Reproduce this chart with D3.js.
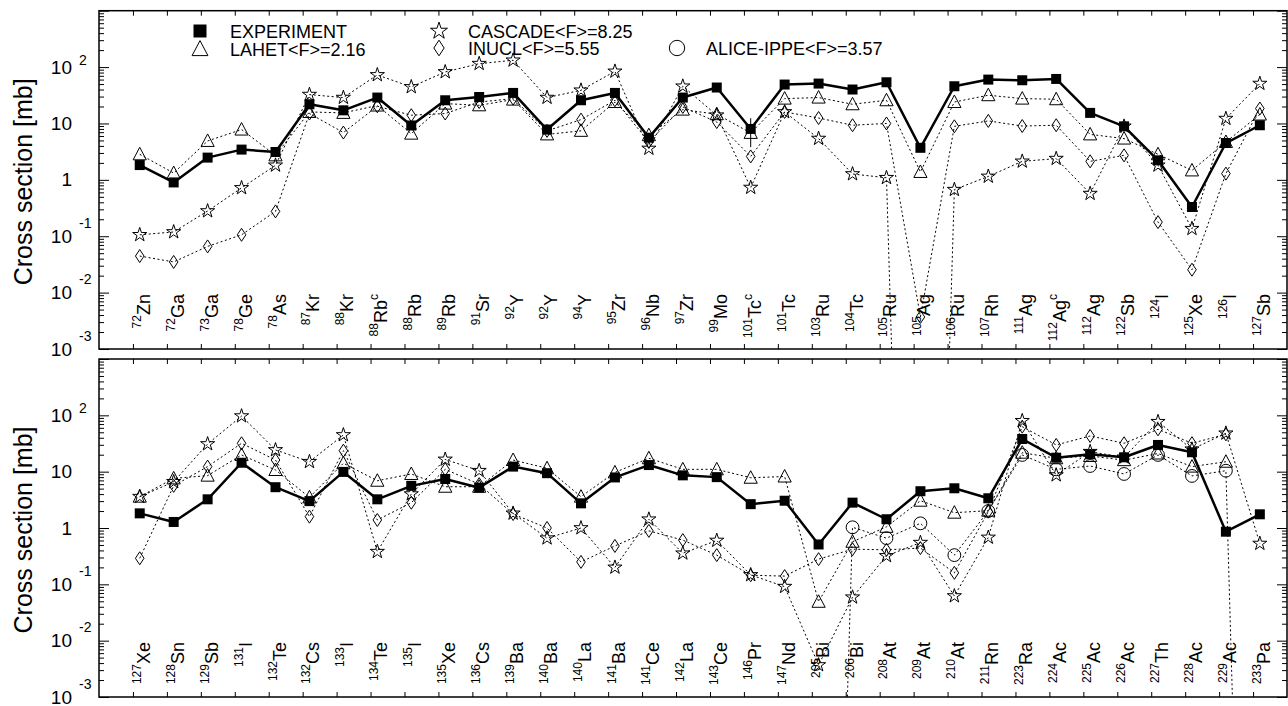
<!DOCTYPE html>
<html>
<head>
<meta charset="utf-8">
<script src="https://cdn.jsdelivr.net/npm/d3@7"></script>
<style>
  body { margin: 0; background: #fff; }
  svg { display: block; font-family: "Liberation Sans", Arial, Helvetica, sans-serif; }
</style>
</head>
<body>
<div id="chart"></div>
<script>
// model value 0 -> drawn far below the log axis so the dotted line drops off the panel
const ZERO = 1e-20;

// ---- upper panel ----
const topIsotopes = ['72Zn', '72Ga', '73Ga', '78Ge', '78As', '87Kr', '88Kr', '88Rb^c', '88Rb', '89Rb', '91Sr', '92Y',
  '92Y', '94Y', '95Zr', '96Nb', '97Zr', '99Mo', '101Tc^c', '101Tc', '103Ru', '104Tc', '105Ru', '105Ag', '106Ru', '107Rh',
  '111Ag', '112Ag^c', '112Ag', '122Sb', '124I', '125Xe', '126I', '127Sb'];
const topExperiment = [1.83, 0.90, 2.48, 3.44, 3.12, 21.9, 17.1, 28.8, 9.2, 25.8, 29.5, 34.8, 7.8, 25.8, 34.8, 5.6, 28.8,
  43.4, 8.0, 49, 51, 40, 53.8, 3.7, 45.7, 60, 58.4, 61.6, 15.4, 8.9, 2.22, 0.33, 4.5, 9.3];
const topLahet = [2.84, 1.32, 4.9, 7.8, 2.72, 16, 15.4, 20.8, 6.6, 22.5, 21, 26.5, 6.4, 7.4, 24, 6.2, 17.6, 14.6, 6.8,
  27.6, 28.8, 21.9, 25.8, 1.38, 24, 31.7, 27.6, 26.9, 6.4, 5.4, 2.84, 1.47, 4.7, 14.4];
const topCascade = [0.106, 0.119, 0.28, 0.72, 1.81, 32.5, 28.8, 72.6, 44.5, 82, 115, 132, 28.8, 38.8, 84, 3.6, 45.7, 14,
  0.73, 16, 5.4, 1.27, 1.09, ZERO, 0.67, 1.15, 2.13, 2.38, 0.57, 8.9, 1.81, 0.136, 12.2, 51];
const topInucl = [0.0445, 0.035, 0.066, 0.106, 0.276, 15, 6.9, 20.2, 14, 15, 24, 27.6, 7.4, 11.7, 25.8, 4.7, 19.6, 10.6,
  2.6, 16, 12.5, 9.3, 10, 0.0037, 8.9, 11.1, 9.0, 9.3, 2.13, 2.72, 0.178, 0.0255, 1.29, 18.4];
const topAlice = topIsotopes.map(() => null);
const topErrIndex = [18];
const topErrLow = [3.8];
const topErrHigh = [12.4];

// ---- lower panel ----
const bottomIsotopes = ['127Xe', '128Sn', '129Sb', '131I', '132Te', '132Cs', '133I', '134Te', '135I', '135Xe', '136Cs',
  '139Ba', '140Ba', '140La', '141Ba', '141Ce', '142La', '143Ce', '146Pr', '147Nd', '205Bi', '206Bi', '208At', '209At',
  '210At', '211Rn', '223Ra', '224Ac', '225Ac', '226Ac', '227Th', '228Ac', '229Ac', '233Pa'];
const bottomExperiment = [1.82, 1.28, 3.23, 14.4, 5.3, 3.0, 9.9, 3.23, 5.6, 7.4, 5.2, 12.3, 9.4, 2.74, 7.9, 13.1, 8.6,
  8.0, 2.65, 3.05, 0.51, 2.82, 1.43, 4.5, 5.07, 3.37, 38, 17.7, 20.3, 18, 29.8, 22.1, 0.86, 1.75];
const bottomLahet = [3.6, 7.6, 8.5, 19.8, 10.7, 3.5, 14.1, 6.9, 9.1, 5.4, 5.4, 16.1, 11.5, 3.6, 9.7, 17.3, 11, 11, 7.8,
  8.2, 0.049, 0.57, 1.05, 3.05, 1.87, 2.03, 21.7, 17.3, 19, 16, 21, 12.3, 15, null];
const bottomCascade = [3.6, 6.6, 31, 97, 24.3, 15, 44.8, 0.38, 4.0, 16.5, 10.4, 1.82, 0.66, 1.0, 0.2, 1.43, 0.356, 0.6,
  0.147, 0.091, 0.0037, 0.059, 0.32, 0.55, 0.062, 0.68, 80, 8.7, 22.6, 18, 77, 25, 48, 0.53];
const bottomInucl = [0.29, 5.6, 12.3, 31.9, 16.1, 1.59, 23.6, 1.39, 2.81, 11, 6, 1.77, 1.0, 0.25, 0.48, 0.89, 0.61, 0.33,
  0.145, 0.14, 0.28, 0.42, 0.41, 0.44, 0.16, 1.95, 63, 29.8, 43, 31.9, 56.5, 32, 46, null];
const bottomAlice = [null, null, null, null, null, null, null, null, null, null, null, null, null, null, null, null, null,
  null, null, null, ZERO, 1.03, 0.66, 1.21, 0.33, 2.0, 19.8, 11, 12.6, 9.1, 19.8, 8.4, 10.4, ZERO];

const legendNames = ['EXPERIMENT', 'LAHET<F>=2.16', 'CASCADE<F>=8.25', 'INUCL<F>=5.55', 'ALICE-IPPE<F>=3.57'];
const yLabel = 'Cross section [mb]';

const width = 1288, height = 706;
const plotLeft = 99, plotRight = 1287;
const x = d3.scaleLinear().domain([0, 35]).range([plotLeft, plotRight]);
const pointOffset = 1.2;

const svg = d3.select('#chart').append('svg')
  .attr('width', width)
  .attr('height', height);

// marker shapes, centred on 0,0
function markerPath(type, k = 1) {
  if (type === 'square') {
    const h = 5 * k;
    return `M${-h},${-h}H${h}V${h}H${-h}Z`;
  }
  if (type === 'triangle') return `M0,${-7 * k}L${6.6 * k},${5.5 * k}L${-6.6 * k},${5.5 * k}Z`;
  if (type === 'diamond') return `M0,${-6.5 * k}L${4.3 * k},0L0,${6.5 * k}L${-4.3 * k},0Z`;
  if (type === 'star') return d3.symbol(d3.symbolStar, 62 * k * k)();
  return d3.symbol(d3.symbolCircle, Math.PI * 6.4 * 6.4 * k * k)();
}

function drawPanel(panel, id) {
  const y = d3.scaleLog().domain([1e-3, 1e3]).range([panel.bottom, panel.top]);
  const g = svg.append('g');

  g.append('clipPath').attr('id', 'clip' + id)
    .append('rect')
    .attr('x', plotLeft).attr('y', panel.top)
    .attr('width', plotRight - plotLeft).attr('height', panel.bottom - panel.top);

  // log ticks, inward on both sides
  const majors = d3.range(-3, 4).map(e => Math.pow(10, e));
  const minors = [];
  d3.range(-3, 3).forEach(e => d3.range(2, 10).forEach(m => minors.push(m * Math.pow(10, e))));

  [[d3.axisLeft, plotLeft], [d3.axisRight, plotRight]].forEach(([axis, pos]) => {
    g.append('g').attr('transform', `translate(${pos},0)`)
      .call(axis(y).tickValues(majors).tickSize(-10).tickFormat(''))
      .call(a => a.select('.domain').remove());
    g.append('g').attr('transform', `translate(${pos},0)`)
      .call(axis(y).tickValues(minors).tickSize(-5).tickFormat(''))
      .call(a => a.select('.domain').remove());
  });

  // x ticks on top and bottom
  const xt = d3.range(1, 35);
  g.append('g').attr('transform', `translate(0,${panel.bottom})`)
    .call(d3.axisBottom(x).tickValues(xt).tickSize(-5).tickFormat(''))
    .call(a => a.select('.domain').remove());
  g.append('g').attr('transform', `translate(0,${panel.top})`)
    .call(d3.axisTop(x).tickValues(xt).tickSize(-5).tickFormat(''))
    .call(a => a.select('.domain').remove());
  g.selectAll('.tick line').attr('stroke', '#000').attr('stroke-width', 1);

  // y tick labels 10^n
  d3.range(-3, 3).forEach(e => {
    const ty = y(Math.pow(10, e));
    g.append('text')
      .attr('x', 72).attr('y', ty + 6.5)
      .attr('text-anchor', 'end')
      .attr('font-size', 19)
      .text(e === 0 ? '1' : '10');
    if (e !== 0 && e !== 1) {
      g.append('text')
        .attr('x', 79).attr('y', ty + (e > 0 ? -2.5 : -8.5))
        .attr('font-size', 14)
        .text(String(e));
    }
  });

  g.append('text')
    .attr('transform', `translate(32,${(panel.top + panel.bottom) / 2 + 2}) rotate(-90)`)
    .attr('text-anchor', 'middle')
    .attr('font-size', 25)
    .text(yLabel);

  // isotope labels, rotated
  panel.isotopes.forEach((lab, i) => {
    const m = lab.match(/^(\d+)([A-Za-z]+)(\^c)?$/);
    const t = g.append('text')
      .attr('transform', `translate(${x(i + pointOffset) + 10},${panel.bottom - 55}) rotate(-90)`)
      .attr('text-anchor', 'end');
    t.append('tspan').attr('font-size', 12).attr('dy', -9).text(m[1]);
    t.append('tspan').attr('font-size', 18).attr('dy', 9).text(m[2]);
    if (m[3]) t.append('tspan').attr('font-size', 12).attr('dy', -9).text('c');
  });

  // model curves (dotted) and their open markers
  const line = d3.line()
    .defined(d => d.v != null)
    .x(d => x(d.i + pointOffset))
    .y(d => y(d.v));

  const models = [
    {values: panel.lahet, marker: 'triangle'},
    {values: panel.cascade, marker: 'star'},
    {values: panel.inucl, marker: 'diamond'},
    {values: panel.alice, marker: 'circle'}
  ];

  models.forEach(s => {
    const pts = s.values.map((v, i) => ({i, v}));
    g.append('path')
      .datum(pts)
      .attr('clip-path', `url(#clip${id})`)
      .attr('fill', 'none')
      .attr('stroke', '#000')
      .attr('stroke-width', 1)
      .attr('stroke-dasharray', '2,2.5')
      .attr('d', line);
  });
  models.forEach(s => {
    const pts = s.values.map((v, i) => ({i, v})).filter(d => d.v != null && d.v >= 1e-3);
    g.selectAll(null)
      .data(pts)
      .join('path')
      .attr('transform', d => `translate(${x(d.i + pointOffset)},${y(d.v)})`)
      .attr('d', markerPath(s.marker))
      .attr('fill', 'none')
      .attr('stroke', '#000')
      .attr('stroke-width', 1);
  });

  // experiment: solid line, error bars, filled squares
  const expPts = panel.experiment.map((v, i) => ({i, v}));
  g.append('path')
    .datum(expPts)
    .attr('fill', 'none')
    .attr('stroke', '#000')
    .attr('stroke-width', 2.5)
    .attr('stroke-linejoin', 'round')
    .attr('d', line);
  panel.errIndex.forEach((idx, j) => {
    g.append('line')
      .attr('x1', x(idx + pointOffset)).attr('x2', x(idx + pointOffset))
      .attr('y1', y(panel.errLow[j])).attr('y2', y(panel.errHigh[j]))
      .attr('stroke', '#000').attr('stroke-width', 1);
  });
  g.selectAll(null)
    .data(expPts)
    .join('path')
    .attr('transform', d => `translate(${x(d.i + pointOffset)},${y(d.v)})`)
    .attr('d', markerPath('square'))
    .attr('fill', '#000');

  g.append('rect')
    .attr('x', plotLeft).attr('y', panel.top)
    .attr('width', plotRight - plotLeft).attr('height', panel.bottom - panel.top)
    .attr('fill', 'none')
    .attr('stroke', '#000')
    .attr('stroke-width', 1.5);
}

drawPanel({
  top: 10.7, bottom: 349, isotopes: topIsotopes, experiment: topExperiment,
  lahet: topLahet, cascade: topCascade, inucl: topInucl, alice: topAlice,
  errIndex: topErrIndex, errLow: topErrLow, errHigh: topErrHigh
}, 'Top');

drawPanel({
  top: 359, bottom: 697, isotopes: bottomIsotopes, experiment: bottomExperiment,
  lahet: bottomLahet, cascade: bottomCascade, inucl: bottomInucl, alice: bottomAlice,
  errIndex: [], errLow: [], errHigh: []
}, 'Bottom');

// legend
const legend = svg.append('g').attr('font-size', 18);
const legendItems = [
  {marker: 'square', mx: 200, my: 31, tx: 230},
  {marker: 'triangle', mx: 200, my: 49, tx: 230},
  {marker: 'star', mx: 439, my: 31, tx: 468},
  {marker: 'diamond', mx: 439, my: 48, tx: 468},
  {marker: 'circle', mx: 677, my: 48, tx: 706}
];
legendItems.forEach((it, i) => {
  legend.append('path')
    .attr('transform', `translate(${it.mx},${it.my})`)
    .attr('d', markerPath(it.marker, it.marker === 'square' ? 1.3 : 1.2))
    .attr('fill', it.marker === 'square' ? '#000' : 'none')
    .attr('stroke', '#000')
    .attr('stroke-width', it.marker === 'square' ? 0 : 1);
  legend.append('text')
    .attr('x', it.tx).attr('y', it.my + 6.5)
    .text(legendNames[i]);
});
</script>
</body>
</html>
